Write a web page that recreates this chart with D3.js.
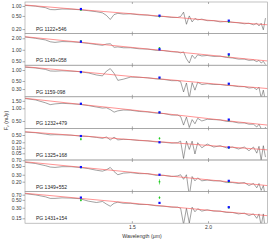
<!DOCTYPE html>
<html>
<head>
<meta charset="utf-8">
<script src="https://cdn.jsdelivr.net/npm/d3@7"></script>
<style>
body { margin: 0; background: #fff; }
text { font-family: "Liberation Sans", Arial, sans-serif; }
</style>
</head>
<body>
<script>
// object names, one panel each
const names = ['PG 1122+546', 'PG 1149+058', 'PG 1159-098', 'PG 1232+479', 'PG 1325+168', 'PG 1349+552', 'PG 1431+154'];

// spectrum wavelength grid (micron)
const wave = [1.00,1.04,1.08,1.10,1.12,1.15,1.19,1.23,1.27,1.31,1.34,1.36,1.38,1.40,1.42,1.45,1.49,1.54,1.59,1.64,1.69,1.74,1.78,1.80,1.82,1.84,1.86,1.88,1.90,1.92,1.95,1.99,2.04,2.09,2.14,2.19,2.24,2.29,2.33,2.37,2.40,2.42,2.44,2.46,2.48];

// observed spectra (mJy)
const flux1 = [1.04,0.99,0.89,0.78,0.77,0.81,0.80,0.77,0.72,0.67,0.62,0.52,0.39,0.55,0.60,0.57,0.58,0.54,0.53,0.49,0.48,0.45,0.45,0.48,0.65,0.28,0.50,0.33,0.42,0.38,0.40,0.36,0.36,0.33,0.34,0.32,0.31,0.29,0.30,0.27,0.30,0.25,0.30,0.19,0.43];
const flux2 = [2.16,2.00,1.81,1.62,1.56,1.64,1.62,1.56,1.47,1.37,1.31,1.41,1.44,1.16,1.19,1.13,1.13,1.06,1.04,0.97,0.95,0.89,0.87,0.83,0.88,0.58,0.45,0.72,0.59,0.74,0.69,0.71,0.67,0.68,0.63,0.61,0.57,0.57,0.53,0.54,0.49,0.53,0.45,0.50,0.41];
const flux3 = [1.19,1.14,1.04,0.94,0.93,0.95,0.93,0.90,0.83,0.73,0.69,0.93,1.09,0.81,0.52,0.56,0.64,0.63,0.61,0.57,0.55,0.51,0.51,0.48,0.25,0.44,0.17,0.45,0.28,0.46,0.40,0.42,0.40,0.40,0.38,0.37,0.35,0.35,0.32,0.33,0.29,0.34,0.17,0.28,0.14];
const flux4 = [1.70,1.58,1.35,1.22,1.27,1.31,1.28,1.24,1.16,1.07,1.01,1.03,0.93,0.81,0.87,0.91,0.90,0.84,0.82,0.77,0.75,0.69,0.69,0.64,0.40,0.62,0.35,0.54,0.43,0.58,0.50,0.55,0.54,0.53,0.49,0.48,0.45,0.45,0.42,0.42,0.36,0.42,0.33,0.18,0.36];
const flux5 = [0.72,0.67,0.56,0.51,0.52,0.51,0.49,0.44,0.42,0.37,0.33,0.39,0.27,0.38,0.27,0.29,0.28,0.25,0.24,0.21,0.20,0.18,0.19,0.23,0.026,0.23,0.081,0.23,0.046,0.19,0.10,0.16,0.11,0.13,0.10,0.11,0.086,0.11,0.069,0.11,0.051,0.12,0.021,0.13,0.031];
const flux6 = [0.62,0.58,0.51,0.47,0.46,0.48,0.48,0.46,0.43,0.39,0.37,0.40,0.46,0.36,0.30,0.33,0.34,0.32,0.32,0.29,0.29,0.27,0.28,0.30,0.23,0.30,0.087,0.27,0.21,0.25,0.21,0.22,0.21,0.21,0.19,0.19,0.18,0.19,0.16,0.18,0.14,0.18,0.12,0.16,0.080];
const flux7 = [0.75,0.69,0.61,0.55,0.55,0.57,0.56,0.54,0.46,0.42,0.45,0.38,0.33,0.40,0.43,0.40,0.40,0.37,0.37,0.34,0.33,0.31,0.31,0.29,0.10,0.29,0.11,0.31,0.23,0.28,0.24,0.26,0.24,0.24,0.22,0.22,0.20,0.21,0.18,0.20,0.15,0.20,0.092,0.20,0.063];
const fluxes = [flux1, flux2, flux3, flux4, flux5, flux6, flux7];

// model (red)
const modelWave = [1.0, 1.25, 1.5, 1.75, 2.0, 2.25, 2.5];
const models = [
  [1.07, 0.76, 0.58, 0.46, 0.37, 0.31, 0.27],
  [2.2, 1.54, 1.15, 0.90, 0.73, 0.60, 0.51],
  [1.23, 0.88, 0.66, 0.53, 0.43, 0.36, 0.31],
  [1.73, 1.21, 0.91, 0.71, 0.57, 0.47, 0.40],
  [0.76, 0.435, 0.276, 0.188, 0.134, 0.100, 0.077],
  [0.64, 0.456, 0.346, 0.273, 0.223, 0.187, 0.159],
  [0.77, 0.539, 0.403, 0.314, 0.254, 0.210, 0.178]
];

// J, H, K photometry
const photWave = [1.235, 1.662, 2.159];
const blueFlux = [
  [0.81, 0.51, 0.36], [1.63, 1.03, 0.76], [0.88, 0.62, 0.42], [1.28, 0.80, 0.54],
  [0.44, 0.20, 0.105], [0.47, 0.30, 0.21], [0.58, 0.41, 0.31]
];
const greenFlux = [
  [0.76, 0.48, 0.33], [1.72, 1.12, 0.70], [0.86, 0.60, 0.41], [1.26, 0.80, 0.52],
  [0.30, 0.33, 0.10], [0.46, 0.20, 0.20], [0.49, 0.58, 0.30]
];
const greenErr = [
  [0.02, 0.02, 0.01], [0.04, 0.03, 0.02], [0.02, 0.02, 0.01], [0.03, 0.02, 0.01],
  [0.05, 0.05, 0.01], [0.02, 0.03, 0.01], [0.04, 0.05, 0.01]
];

// per panel y ranges (top, bottom) and ticks
const yDomains = [[1.32, 0.146], [2.65, 0.395], [1.354, 0.184], [1.87, 0.334], [1.15, 0.0215], [0.71, 0.112], [0.857, 0.109]];
const yTicks = [[1, 0.5, 0.2], [2, 1, 0.5], [1, 0.5, 0.3], [1.5, 1, 0.5], [0.5, 0.2, 0.1, 0.05], [0.7, 0.5, 0.3, 0.2], [0.7, 0.5, 0.3, 0.15]];
const xTicks = [1.5, 2.0];

const W = 269, H = 247;
const padL = 25, padR = 267.6, padT = 2, ph = 31.6;

const svg = d3.select('body').append('svg')
  .attr('width', W).attr('height', H);

const x = d3.scaleLog().domain([1.0, 2.5]).range([padL, padR]);
const pw = padR - padL;

names.forEach((name, i) => {
  const y0 = padT + i * ph;
  const y = d3.scaleLog().domain(yDomains[i]).range([y0, y0 + ph]);
  const g = svg.append('g');

  g.append('clipPath').attr('id', 'clip' + i)
    .append('rect').attr('x', padL).attr('y', y0).attr('width', pw).attr('height', ph);

  const plot = g.append('g').attr('clip-path', `url(#clip${i})`);

  // spectrum
  plot.append('path')
    .datum(wave.map((w, k) => [w, fluxes[i][k]]))
    .attr('d', d3.line().x(d => x(d[0])).y(d => y(d[1])))
    .attr('fill', 'none').attr('stroke', '#444').attr('stroke-width', 0.5);

  // model
  plot.append('path')
    .datum(modelWave.map((w, k) => [w, models[i][k]]))
    .attr('d', d3.line().x(d => x(d[0])).y(d => y(d[1])))
    .attr('fill', 'none').attr('stroke', '#ff5a5a').attr('stroke-width', 0.65);

  // green photometry with error bars
  photWave.forEach((w, k) => {
    const v = greenFlux[i][k], e = greenErr[i][k];
    plot.append('line')
      .attr('x1', x(w)).attr('x2', x(w))
      .attr('y1', y(v + e)).attr('y2', y(v - e))
      .attr('stroke', '#22cc22').attr('stroke-width', 0.6);
    plot.append('circle')
      .attr('cx', x(w)).attr('cy', y(v)).attr('r', 0.9)
      .attr('fill', '#22cc22');
  });

  // blue photometry
  plot.selectAll('rect.b').data(photWave).enter().append('rect')
    .attr('class', 'b')
    .attr('x', (w) => x(w) - 1.1).attr('y', (w, k) => y(blueFlux[i][k]) - 1.1)
    .attr('width', 2.2).attr('height', 2.2)
    .attr('fill', '#1010ff');

  // frame
  g.append('rect')
    .attr('x', padL).attr('y', y0).attr('width', pw).attr('height', ph)
    .attr('fill', 'none').attr('stroke', '#999').attr('stroke-width', 0.6);

  // x ticks, inward, top and bottom
  xTicks.forEach(t => {
    g.append('line').attr('x1', x(t)).attr('x2', x(t)).attr('y1', y0).attr('y2', y0 + 2)
      .attr('stroke', '#777').attr('stroke-width', 0.6);
    g.append('line').attr('x1', x(t)).attr('x2', x(t)).attr('y1', y0 + ph).attr('y2', y0 + ph - 2)
      .attr('stroke', '#777').attr('stroke-width', 0.6);
  });

  // y axis
  const ax = g.append('g')
    .attr('transform', `translate(${padL},0)`)
    .call(d3.axisLeft(y).tickValues(yTicks[i]).tickFormat(d3.format('.2f')).tickSize(2.5).tickPadding(1));
  ax.select('.domain').remove();
  ax.selectAll('line').attr('stroke', '#777').attr('stroke-width', 0.6);
  ax.selectAll('text').attr('font-size', '5px').attr('fill', '#333')
    .style('font-family', '"Liberation Sans", Arial, sans-serif');

  g.append('text')
    .attr('x', 36).attr('y', y0 + ph - 3)
    .attr('font-size', '5px').attr('fill', '#222')
    .text(name);
});

// x tick labels under last panel
const bottom = padT + names.length * ph;
svg.append('g').selectAll('text').data(xTicks).enter().append('text')
  .attr('x', d => x(d)).attr('y', bottom + 6)
  .attr('text-anchor', 'middle').attr('font-size', '5px').attr('fill', '#333')
  .text(d => d.toFixed(1));

svg.append('text')
  .attr('x', 142).attr('y', bottom + 15)
  .attr('text-anchor', 'middle').attr('font-size', '5.2px').attr('fill', '#333')
  .text('Wavelength (\u03bcm)');

const yl = svg.append('text')
  .attr('transform', `translate(8,${padT + 3.5 * ph + 8}) rotate(-90)`)
  .attr('text-anchor', 'middle').attr('font-size', '5.2px').attr('fill', '#333');
yl.append('tspan').text('F');
yl.append('tspan').attr('font-size', '3.8px').attr('dy', 1).text('\u03bd');
yl.append('tspan').attr('dy', -1).text(' (mJy)');
</script>
</body>
</html>
